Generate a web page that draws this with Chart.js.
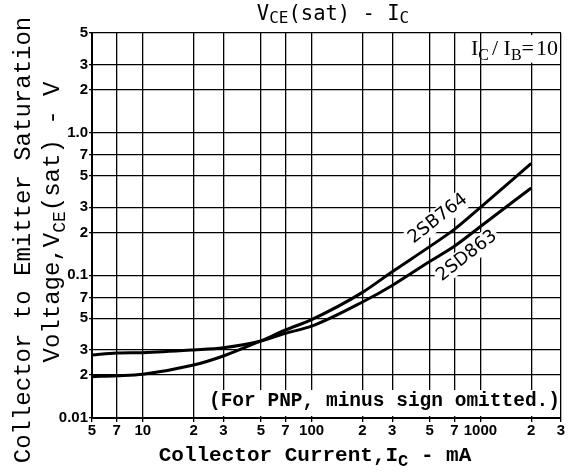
<!DOCTYPE html>
<html>
<head>
<meta charset="utf-8">
<script src="https://cdn.jsdelivr.net/npm/chart.js@4"></script>
<style>
  html, body { margin: 0; padding: 0; background: #fff; }
  #wrap { width: 568px; height: 475px; position: relative; }
</style>
</head>
<body>
<div id="wrap"><canvas id="vceChart"></canvas></div>
<script>
// collector current (mA) and saturation voltage (V)
const currents = [5, 7, 10, 20, 30, 50, 70, 100, 200, 300, 500, 700, 1000, 2000];
const vSB764 = [0.0195, 0.0198, 0.0203, 0.0235, 0.0272, 0.0347, 0.0414, 0.049, 0.076, 0.106, 0.159, 0.21, 0.30, 0.61];
const vSD863 = [0.0277, 0.0285, 0.0287, 0.030, 0.0311, 0.0347, 0.0393, 0.044, 0.065, 0.085, 0.125, 0.16, 0.22, 0.41];

const xTicks = [5, 7, 10, 20, 30, 50, 70, 100, 200, 300, 500, 700, 1000, 2000, 3000];
const xTickLabels = ["5", "7", "10", "2", "3", "5", "7", "100", "2", "3", "5", "7", "1000", "2", "3"];
const yTicks = [0.01, 0.02, 0.03, 0.05, 0.07, 0.1, 0.2, 0.3, 0.5, 0.7, 1, 2, 3, 5];
const yTickLabels = ["0.01", "2", "3", "5", "7", "0.1", "2", "3", "5", "7", "1.0", "2", "3", "5"];

const toPoints = (ys) => currents.map((x, i) => ({ x: x, y: ys[i] }));

// draws a run of text pieces (normal + subscript) starting at x
function drawRich(ctx, parts, x, y, align) {
  let total = 0;
  parts.forEach(p => { ctx.font = p.f; total += ctx.measureText(p.t).width + (p.gap || 0); });
  let cx = align === "center" ? x - total / 2 : (align === "right" ? x - total : x);
  ctx.textAlign = "left";
  ctx.textBaseline = "alphabetic";
  parts.forEach(p => {
    ctx.font = p.f;
    ctx.fillText(p.t, cx, y + (p.dy || 0));
    cx += ctx.measureText(p.t).width + (p.gap || 0);
  });
}

const textPlugin = {
  id: "texts",
  beforeDatasetsDraw(chart) {
    const ctx = chart.ctx;
    const xs = chart.scales.x, ys = chart.scales.y;
    const area = chart.chartArea;
    ctx.save();
    // I_C / I_B box
    const boxL = xs.getPixelForValue(1200);
    ctx.fillStyle = "#fff";
    ctx.fillRect(boxL, area.top + 2, area.right - boxL - 2, ys.getPixelForValue(3) - area.top - 4);
    ctx.fillStyle = "#000";
    const serif = "22px 'Liberation Serif'", serifSub = "16px 'Liberation Serif'";
    drawRich(ctx, [
      { t: "I", f: serif }, { t: "C", f: serifSub, dy: 5, gap: 3 }, { t: "/ ", f: serif },
      { t: "I", f: serif }, { t: "B", f: serifSub, dy: 5 }, { t: "=", f: serif, gap: 2 }, { t: "10", f: serif }
    ], area.right - 3, ys.getPixelForValue(3.5), "right");

    // note at the bottom
    ctx.font = "bold 19.5px 'Liberation Mono'";
    const note = "(For PNP, minus sign omitted.)";
    const w = ctx.measureText(note).width;
    ctx.fillStyle = "#fff";
    ctx.fillRect(area.right - w - 6, area.bottom - 28, w + 4, 26);
    ctx.fillStyle = "#000";
    ctx.textAlign = "right";
    ctx.textBaseline = "middle";
    ctx.fillText(note, area.right - 1, area.bottom - 17);

    // curve labels
    const labels = [
      { t: "2SB764", x: 560, y: 0.25 },
      { t: "2SD863", x: 830, y: 0.137 }
    ];
    labels.forEach(l => {
      ctx.save();
      ctx.translate(xs.getPixelForValue(l.x), ys.getPixelForValue(l.y));
      ctx.rotate(-38 * Math.PI / 180);
      ctx.font = "18px 'DejaVu Sans'";
      const lw = ctx.measureText(l.t).width;
      ctx.fillStyle = "#fff";
      ctx.fillRect(-lw / 2 - 2, -10, lw + 4, 20);
      ctx.fillStyle = "#000";
      ctx.textAlign = "center";
      ctx.textBaseline = "middle";
      ctx.fillText(l.t, 0, 0);
      ctx.restore();
    });
    ctx.restore();
  },
  afterDraw(chart) {
    const ctx = chart.ctx;
    const area = chart.chartArea;
    ctx.save();
    ctx.fillStyle = "#000";
    // title
    const mono = "20.5px 'DejaVu Sans Mono'", monoSub = "16px 'DejaVu Sans Mono'";
    drawRich(ctx, [
      { t: "V", f: mono }, { t: "CE", f: monoSub, dy: 3 }, { t: "(sat) - I", f: mono }, { t: "C", f: monoSub, dy: 3 }
    ], 333, 20, "center");

    // x axis title
    const bold = "bold 21px 'Liberation Mono'", boldSub = "bold 17px 'Liberation Mono'";
    drawRich(ctx, [
      { t: "Collector Current,I", f: bold }, { t: "C", f: boldSub, dy: 5 }, { t: " - mA", f: bold }
    ], 315, 461, "center");

    // y axis title, two lines
    ctx.save();
    ctx.translate(30, 240);
    ctx.rotate(-Math.PI / 2);
    const ym = "24px 'Liberation Mono'", ymSub = "18px 'Liberation Mono'";
    drawRich(ctx, [{ t: "Collector to Emitter Saturation", f: ym }], 0, 0, "center");
    drawRich(ctx, [
      { t: "Voltage,V", f: ym }, { t: "CE", f: ymSub, dy: 6 }, { t: "(sat) - V", f: ym }
    ], 18, 29, "center");
    ctx.restore();
    ctx.restore();
  }
};

const lineStyle = {
  borderColor: "#000",
  borderWidth: 3,
  pointRadius: 0,
  fill: false,
  cubicInterpolationMode: "monotone"
};

const ctxV = document.getElementById("vceChart").getContext("2d");
const vceChart = new Chart(ctxV, {
  type: "line",
  data: {
    datasets: [
      Object.assign({ label: "2SB764", data: toPoints(vSB764) }, lineStyle),
      Object.assign({ label: "2SD863", data: toPoints(vSD863) }, lineStyle)
    ]
  },
  options: {
    responsive: true,
    maintainAspectRatio: false,
    animation: false,
    layout: { padding: { top: 33, right: 7, left: 0, bottom: 0 } },
    plugins: { legend: { display: false }, tooltip: { enabled: false }, title: { display: false } },
    scales: {
      x: {
        type: "logarithmic",
        min: 5,
        max: 3000,
        afterBuildTicks: (s) => { s.ticks = xTicks.map(v => ({ value: v })); },
        afterFit: (s) => { s.height = 57; },
        grid: { color: "#000", lineWidth: 1.3, tickLength: 4 },
        border: { color: "#000", width: 2 },
        ticks: {
          autoSkip: false,
          maxRotation: 0,
          color: "#000",
          padding: 0,
          font: { family: "'Liberation Sans'", size: 15, weight: "bold" },
          callback: (v) => xTickLabels[xTicks.indexOf(v)] ?? ""
        }
      },
      y: {
        type: "logarithmic",
        min: 0.01,
        max: 5,
        afterBuildTicks: (s) => { s.ticks = yTicks.map(v => ({ value: v })); },
        afterFit: (s) => { s.width = 92; },
        grid: { color: "#000", lineWidth: 1.3, tickLength: 3 },
        border: { color: "#000", width: 2 },
        ticks: {
          autoSkip: false,
          color: "#000",
          padding: 1,
          font: { family: "'Liberation Sans'", size: 15, weight: "bold" },
          callback: (v) => yTickLabels[yTicks.findIndex(t => Math.abs(t - v) < 1e-9)] ?? ""
        }
      }
    }
  },
  plugins: [textPlugin]
});
</script>
</body>
</html>
